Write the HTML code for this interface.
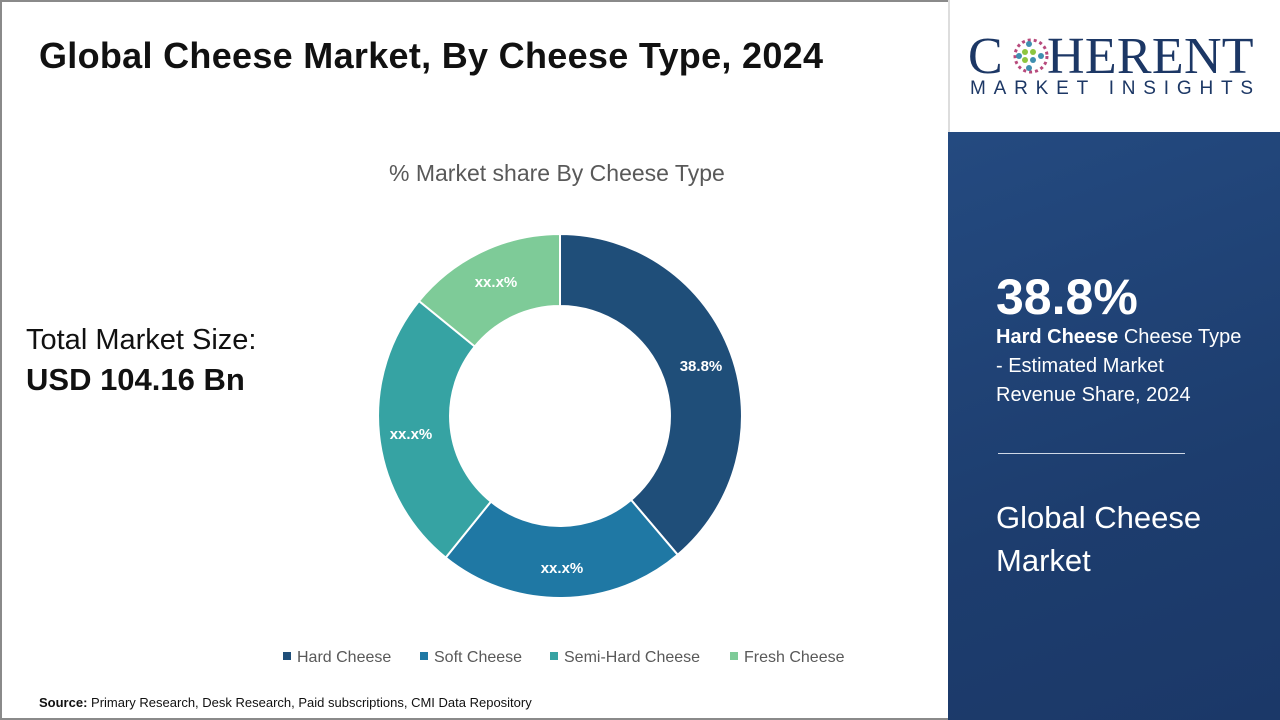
<!DOCTYPE html>
<html><head><meta charset="utf-8"><style>
body{margin:0;width:1280px;height:720px;overflow:hidden;font-family:"Liberation Sans",sans-serif;background:#fff;position:relative}
.frame{position:absolute;left:0;top:0;width:1276px;height:716px;border:2px solid #8a8a8a}
.t{position:absolute;white-space:nowrap}
.right{position:absolute;left:948px;top:0;width:332px;height:720px}
</style></head><body>
<div class="frame"></div>
<div class="t" style="left:39px;top:35px;font-size:36px;font-weight:bold;color:#111;letter-spacing:0.3px">Global Cheese Market, By Cheese Type, 2024</div>
<div class="t" style="left:389px;top:160px;font-size:23px;color:#595959">% Market share By Cheese Type</div>
<div class="t" style="left:26px;top:324px;font-size:29px;color:#111">Total Market Size:</div>
<div class="t" style="left:26px;top:362px;font-size:31px;font-weight:bold;color:#111">USD 104.16 Bn</div>
<svg style="position:absolute;left:0;top:0" width="948" height="720">
<g stroke="#fff" stroke-width="2">
<path d="M560,234 A182,182 0 0 1 677.7,554.8 L631.1,499.9 A110,110 0 0 0 560,306Z" fill="#1f4e79"/>
<path d="M677.7,554.8 A182,182 0 0 1 445.7,557.6 L490.9,501.6 A110,110 0 0 0 631.1,499.9Z" fill="#1f78a4"/>
<path d="M445.7,557.6 A182,182 0 0 1 419,301 L474.8,346.5 A110,110 0 0 0 490.9,501.6Z" fill="#36a3a3"/>
<path d="M419,301 A182,182 0 0 1 560,234 L560,306 A110,110 0 0 0 474.8,346.5Z" fill="#7ecb98"/>
</g>
<g font-family="Liberation Sans" font-weight="bold" font-size="15" fill="#fff" text-anchor="middle">
<text x="701" y="371">38.8%</text><text x="562" y="573">xx.x%</text>
<text x="411" y="439">xx.x%</text><text x="496" y="287">xx.x%</text>
</g>
<g font-family="Liberation Sans" font-size="16" fill="#595959">
<rect x="283" y="652" width="8" height="8" fill="#1f4e79"/><text x="297" y="662">Hard Cheese</text>
<rect x="420" y="652" width="8" height="8" fill="#1f78a4"/><text x="434" y="662">Soft Cheese</text>
<rect x="550" y="652" width="8" height="8" fill="#36a3a3"/><text x="564" y="662">Semi-Hard Cheese</text>
<rect x="730" y="652" width="8" height="8" fill="#7ecb98"/><text x="744" y="662">Fresh Cheese</text>
</g>
</svg>
<div class="t" style="left:39px;top:695px;font-size:13px;color:#111"><b>Source:</b> Primary Research, Desk Research, Paid subscriptions, CMI Data Repository</div>
<div class="right">
<div style="position:absolute;left:0;top:0;width:332px;height:132px;background:#fff;border-left:2px solid #ddd"></div>
<div class="t" style="left:20px;top:27px;font-family:'Liberation Serif',serif;font-size:52px;color:#1c3765;letter-spacing:0.3px">C<span style="display:inline-block;width:44px"></span>HERENT</div>
<svg style="position:absolute;left:63px;top:38px" width="40" height="36"><g fill="#3f8fb0"><circle cx="20" cy="18" r="16" fill="none" stroke="#b84a7c" stroke-width="3" stroke-dasharray="3 3"/><circle cx="14" cy="14" r="3" fill="#8dc63f"/><circle cx="22" cy="14" r="3" fill="#8dc63f"/><circle cx="14" cy="22" r="3" fill="#8dc63f"/><circle cx="22" cy="22" r="3"/><circle cx="8" cy="18" r="3"/><circle cx="30" cy="18" r="3"/><circle cx="18" cy="6" r="3"/><circle cx="18" cy="30" r="3"/></g></svg>
<div class="t" style="left:22px;top:78px;font-size:19px;color:#1c3765;letter-spacing:7.8px">MARKET INSIGHTS</div>
<div style="position:absolute;left:0;top:132px;width:332px;height:588px;background:linear-gradient(160deg,#244a80,#1d3d6e 60%,#1b3868)"></div>
<div class="t" style="left:48px;top:268px;font-size:50px;font-weight:bold;color:#fff">38.8%</div>
<div class="t" style="left:48px;top:323px;font-size:20px;color:#fff;line-height:29px"><b>Hard Cheese</b> Cheese Type<br>- Estimated Market<br>Revenue Share, 2024</div>
<div style="position:absolute;left:50px;top:453px;width:187px;height:1px;background:#cfd8e6"></div>
<div class="t" style="left:48px;top:496px;font-size:31px;color:#fff;line-height:43px">Global Cheese<br>Market</div>
</div>
</body></html>
